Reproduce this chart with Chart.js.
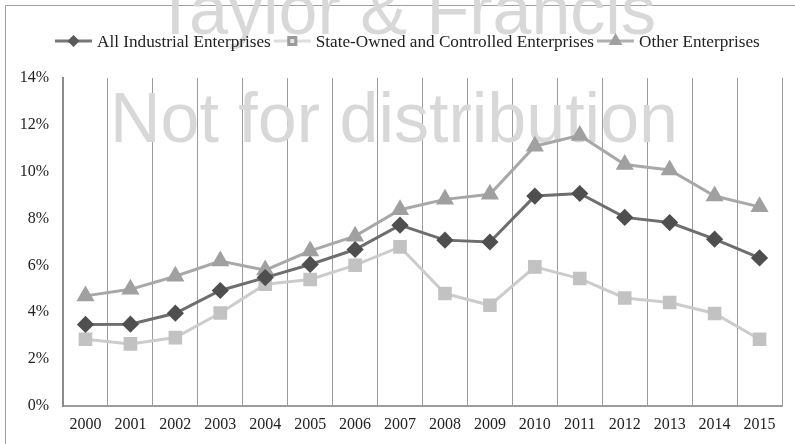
<!DOCTYPE html>
<html>
<head>
<meta charset="utf-8">
<script src="https://cdn.jsdelivr.net/npm/chart.js@4/dist/chart.umd.min.js"></script>
<style>
  html, body { margin: 0; padding: 0; background: #fff; }
  #wrap { position: relative; width: 795px; height: 444px; }
</style>
</head>
<body>
<div id="wrap"><canvas id="chart" width="795" height="444"></canvas></div>
<script>
// Chart data
const years = ['2000', '2001', '2002', '2003', '2004', '2005', '2006', '2007',
               '2008', '2009', '2010', '2011', '2012', '2013', '2014', '2015'];
const allIndustrial = [3.48, 3.49, 3.96, 4.93, 5.48, 6.04, 6.68, 7.72,
                       7.08, 7.00, 8.96, 9.07, 8.05, 7.83, 7.12, 6.32];
const stateOwned = [2.85, 2.65, 2.92, 3.97, 5.20, 5.40, 6.01, 6.79,
                    4.80, 4.30, 5.94, 5.44, 4.61, 4.42, 3.95, 2.85];
const otherEnterprises = [4.70, 4.98, 5.54, 6.19, 5.80, 6.62, 7.25, 8.38,
                          8.82, 9.04, 11.09, 11.55, 10.31, 10.07, 8.96, 8.50];
const yTicks = [0, 2, 4, 6, 8, 10, 12, 14];

const serif = '"Liberation Serif", "Times New Roman", serif';

// Watermark text, drawn under the lines
const watermark = {
    id: 'watermark',
    beforeDatasetsDraw(chart) {
        const ctx = chart.ctx;
        ctx.save();
        ctx.fillStyle = '#d8d8d8';
        ctx.font = '70px "Liberation Sans", Arial, sans-serif';
        ctx.textAlign = 'center';
        ctx.textBaseline = 'alphabetic';
        ctx.fillText('Taylor & Francis', 405, 34);
        ctx.fillText('Not for distribution', 394, 142);
        ctx.restore();
    }
};

// Excel-like legend: short line with marker, then label
const lineLegend = {
    id: 'lineLegend',
    afterDraw(chart) {
        const ctx = chart.ctx;
        ctx.save();
        ctx.font = '17.2px ' + serif;
        ctx.textBaseline = 'middle';
        const y = 41;
        const lineW = 37, gap = 5, spacing = 3;
        let x = 55;
        chart.data.datasets.forEach(ds => {
            const w = ctx.measureText(ds.label).width;
            ctx.strokeStyle = ds.legendLine;
            ctx.lineWidth = 3;
            ctx.beginPath();
            ctx.moveTo(x, y);
            ctx.lineTo(x + lineW, y);
            ctx.stroke();
            ctx.fillStyle = ds.legendFill;
            ctx.strokeStyle = ds.legendStroke;
            Chart.helpers.drawPoint(ctx, {
                pointStyle: ds.pointStyle,
                radius: ds.legendRadius,
                borderWidth: 1
            }, x + lineW / 2, y);
            ctx.fillStyle = '#222';
            ctx.fillText(ds.label, x + lineW + gap, y + 1);
            x += lineW + gap + w + spacing;
        });
        ctx.restore();
    },
    beforeDraw(chart) {
        // frame: only top and left edges fall inside the picture
        const ctx = chart.ctx;
        ctx.save();
        ctx.strokeStyle = '#a0a0a0';
        ctx.lineWidth = 1;
        ctx.beginPath();
        ctx.moveTo(5.5, 444);
        ctx.lineTo(5.5, 5.5);
        ctx.lineTo(795, 5.5);
        ctx.stroke();
        ctx.restore();
    }
};

new Chart(document.getElementById('chart'), {
    type: 'line',
    data: {
        labels: years,
        datasets: [
            {
                label: 'All Industrial Enterprises',
                data: allIndustrial,
                borderColor: '#6e6e6e',
                borderWidth: 3,
                pointStyle: 'rectRot',
                pointRadius: 6.5,
                pointBackgroundColor: '#4f4f4f',
                pointBorderColor: '#4f4f4f',
                legendLine: '#777777',
                legendFill: '#5a5a5a',
                legendStroke: '#5a5a5a',
                legendRadius: 4,
                tension: 0
            },
            {
                label: 'State-Owned and Controlled Enterprises',
                data: stateOwned,
                borderColor: '#cccccc',
                borderWidth: 3,
                pointStyle: 'rect',
                pointRadius: 7.5,
                pointBackgroundColor: '#c2c2c2',
                pointBorderColor: '#c2c2c2',
                legendLine: '#dddddd',
                legendFill: '#e4e4e4',
                legendStroke: '#9a9a9a',
                legendRadius: 5,
                tension: 0
            },
            {
                label: 'Other Enterprises',
                data: otherEnterprises,
                borderColor: '#a8a8a8',
                borderWidth: 3,
                pointStyle: 'triangle',
                pointRadius: 7.5,
                pointBackgroundColor: '#a0a0a0',
                pointBorderColor: '#a0a0a0',
                legendLine: '#b0b0b0',
                legendFill: '#a0a0a0',
                legendStroke: '#a0a0a0',
                legendRadius: 5,
                tension: 0
            }
        ]
    },
    options: {
        responsive: false,
        animation: false,
        devicePixelRatio: 1,
        layout: { padding: { left: 0, right: 13, top: 78, bottom: 0 } },
        plugins: {
            legend: { display: false },
            tooltip: { enabled: false }
        },
        scales: {
            x: {
                offset: true,
                grid: { display: true, offset: true, color: '#9c9c9c', lineWidth: 1, drawTicks: false },
                border: { display: true, color: '#9c9c9c', width: 2 },
                ticks: { color: '#222', font: { family: serif, size: 16 }, padding: 9, maxRotation: 0, autoSkip: false },
                afterFit(scale) { scale.height = 38; }
            },
            y: {
                min: 0,
                max: 14,
                afterBuildTicks(scale) { scale.ticks = yTicks.map(v => ({ value: v })); },
                grid: { display: false, drawTicks: false },
                border: { display: true, color: '#8c8c8c', width: 2 },
                ticks: {
                    color: '#222',
                    font: { family: serif, size: 16 },
                    padding: 14,
                    callback: v => v + '%'
                },
                afterFit(scale) { scale.width = 63; }
            }
        }
    },
    plugins: [watermark, lineLegend]
});
</script>
</body>
</html>
